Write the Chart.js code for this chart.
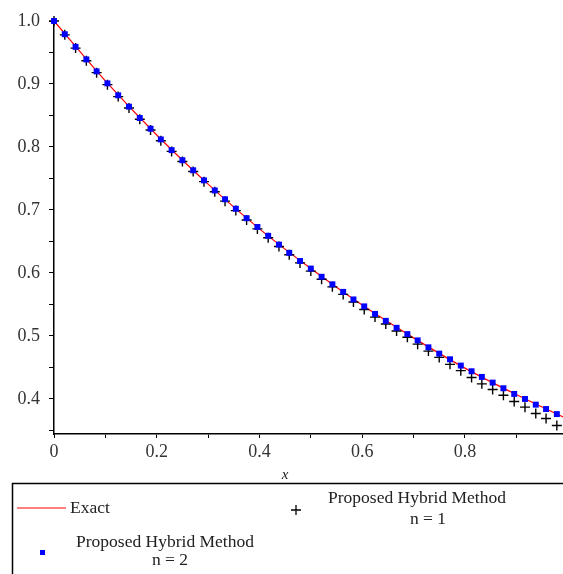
<!DOCTYPE html>
<html>
<head>
<meta charset="utf-8">
<script src="https://cdn.jsdelivr.net/npm/chart.js@4/dist/chart.umd.min.js"></script>
<style>
html, body { margin: 0; padding: 0; background: #fff; }
#wrap { width: 563px; height: 574px; }
</style>
</head>
<body>
<div id="wrap"><canvas id="myChart" width="563" height="574"></canvas></div>
<script>
// x positions of the computed points
const xValues = [0, 0.021, 0.042, 0.063, 0.083, 0.104, 0.125, 0.146, 0.167, 0.188,
    0.208, 0.229, 0.25, 0.271, 0.292, 0.313, 0.333, 0.354, 0.375, 0.396,
    0.417, 0.438, 0.458, 0.479, 0.5, 0.521, 0.542, 0.563, 0.583, 0.604,
    0.625, 0.646, 0.667, 0.688, 0.708, 0.729, 0.75, 0.771, 0.792, 0.813,
    0.833, 0.854, 0.875, 0.896, 0.917, 0.938, 0.958, 0.979];

// exact solution (red line)
const exactX = [0, 0.1, 0.2, 0.3, 0.4, 0.5, 0.6, 0.7, 0.8, 0.9, 1.0];
const exactValues = [1.0, 0.905, 0.819, 0.741, 0.670, 0.607, 0.549, 0.497, 0.449, 0.407, 0.368];

// n = 1 (plus markers)
const n1Values = [1.0, 0.978, 0.957, 0.937, 0.918, 0.899, 0.880, 0.862, 0.844, 0.827,
    0.810, 0.793, 0.777, 0.761, 0.745, 0.729, 0.714, 0.699, 0.684, 0.670,
    0.656, 0.642, 0.629, 0.616, 0.603, 0.590, 0.578, 0.566, 0.554, 0.542,
    0.530, 0.519, 0.508, 0.498, 0.487, 0.476, 0.466, 0.455, 0.445, 0.434,
    0.424, 0.415, 0.406, 0.396, 0.387, 0.377, 0.369, 0.358];

// n = 2 (blue squares)
const n2Values = [1.0, 0.979, 0.959, 0.939, 0.920, 0.901, 0.882, 0.864, 0.846, 0.829,
    0.812, 0.795, 0.779, 0.763, 0.747, 0.731, 0.717, 0.702, 0.687, 0.673,
    0.659, 0.645, 0.632, 0.619, 0.607, 0.594, 0.582, 0.570, 0.558, 0.547,
    0.535, 0.524, 0.513, 0.503, 0.493, 0.482, 0.472, 0.463, 0.453, 0.444,
    0.435, 0.426, 0.417, 0.408, 0.400, 0.391, 0.384, 0.376];

const xTicks = [0, 0.1, 0.2, 0.3, 0.4, 0.5, 0.6, 0.7, 0.8, 0.9];
const xTickLabels = ['0', '', '0.2', '', '0.4', '', '0.6', '', '0.8', ''];
const yTicks = [0.35, 0.4, 0.45, 0.5, 0.55, 0.6, 0.65, 0.7, 0.75, 0.8, 0.85, 0.9, 0.95, 1.0];
const yTickLabels = ['', '0.4', '', '0.5', '', '0.6', '', '0.7', '', '0.8', '', '0.9', '', '1.0'];

const serif = "'Liberation Serif', 'Times New Roman', serif";

const toPoints = (xs, ys) => xs.map((x, i) => ({ x: x, y: ys[i] }));

// legend box below the axis, plus the axis name
const legendBox = {
    id: 'legendBox',
    afterDraw(chart) {
        const c = chart.ctx;
        c.save();
        c.fillStyle = '#222';
        c.font = 'italic 15px ' + serif;
        c.textAlign = 'center';
        c.textBaseline = 'middle';
        c.fillText('x', 285, 475);

        c.strokeStyle = '#000';
        c.lineWidth = 1.5;
        c.strokeRect(12.5, 483.5, 560, 100);

        c.strokeStyle = '#ff0000';
        c.lineWidth = 1.2;
        c.beginPath();
        c.moveTo(17, 508);
        c.lineTo(66, 508);
        c.stroke();

        c.strokeStyle = '#000';
        c.lineWidth = 1.3;
        c.beginPath();
        c.moveTo(291, 510); c.lineTo(301, 510);
        c.moveTo(296, 505); c.lineTo(296, 515);
        c.stroke();

        c.fillStyle = '#0000ff';
        c.fillRect(40, 550, 5, 5);

        c.fillStyle = '#222';
        c.font = '17.5px ' + serif;
        c.textAlign = 'left';
        c.fillText('Exact', 70, 508);
        c.textAlign = 'center';
        c.fillText('Proposed Hybrid Method', 417, 498);
        c.fillText('n = 1', 428, 519);
        c.fillText('Proposed Hybrid Method', 165, 542);
        c.fillText('n = 2', 170, 560);
        c.restore();
    }
};

const ctx = document.getElementById('myChart');

new Chart(ctx, {
    type: 'scatter',
    data: {
        datasets: [{
            label: 'Proposed Hybrid Method n = 2',
            data: toPoints(xValues, n2Values),
            pointStyle: 'rect',
            pointRadius: 4.2,
            backgroundColor: '#0000ff',
            borderColor: '#0000ff',
            borderWidth: 0,
            clip: false
        }, {
            label: 'Proposed Hybrid Method n = 1',
            data: toPoints(xValues, n1Values),
            pointStyle: 'cross',
            pointRadius: 5,
            borderColor: '#000',
            borderWidth: 1.4,
            clip: false
        }, {
            label: 'Exact',
            data: toPoints(exactX, exactValues),
            showLine: true,
            cubicInterpolationMode: 'monotone',
            pointRadius: 0,
            borderColor: '#ff0000',
            borderWidth: 1.2,
            clip: { left: 0, top: 5, right: 0, bottom: 0 }
        }]
    },
    options: {
        responsive: false,
        animation: false,
        devicePixelRatio: 1,
        layout: { autoPadding: false, padding: { top: 21, right: 0, left: 0, bottom: 0 } },
        plugins: {
            legend: { display: false },
            tooltip: { enabled: false }
        },
        scales: {
            x: {
                type: 'linear',
                min: 0,
                max: 0.991,
                afterBuildTicks: (axis) => { axis.ticks = xTicks.map(v => ({ value: v })); },
                afterFit: (scale) => {
                    scale.height = 140;
                    scale.paddingLeft = 0;
                    scale.paddingRight = 0;
                },
                grid: { display: true, drawOnChartArea: false, drawTicks: true, tickLength: 4, color: '#000', lineWidth: 1 },
                border: { display: true, color: '#000', width: 1.5 },
                ticks: {
                    autoSkip: false,
                    maxRotation: 0,
                    padding: 3,
                    color: '#333',
                    font: { family: serif, size: 18 },
                    callback: (value, index) => xTickLabels[index]
                }
            },
            y: {
                type: 'linear',
                min: 0.3444,
                max: 1.0,
                afterBuildTicks: (axis) => { axis.ticks = yTicks.map(v => ({ value: v })); },
                afterFit: (scale) => {
                    scale.width = 54;
                    scale.paddingTop = 0;
                    scale.paddingBottom = 0;
                },
                grid: { display: true, drawOnChartArea: false, drawTicks: true, tickLength: 5, color: '#000', lineWidth: 1 },
                border: { display: true, color: '#000', width: 1.5 },
                ticks: {
                    autoSkip: false,
                    padding: 9,
                    color: '#333',
                    font: { family: serif, size: 18 },
                    callback: (value, index) => yTickLabels[index]
                }
            }
        }
    },
    plugins: [legendBox]
});
</script>
</body>
</html>
